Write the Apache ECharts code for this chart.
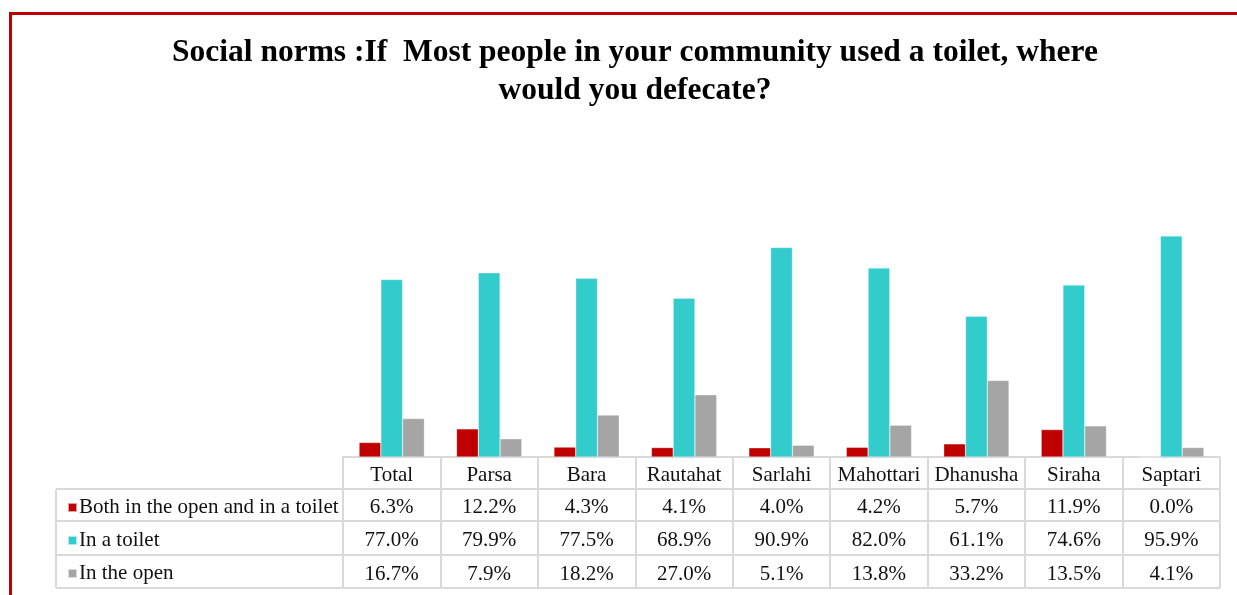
<!DOCTYPE html>
<html>
<head>
<meta charset="utf-8">
<script src="https://cdn.jsdelivr.net/npm/echarts@6/dist/echarts.min.js"></script>
<style>
  html, body { margin: 0; padding: 0; background: #fff; }
  #chart { width: 1237px; height: 595px; }
</style>
</head>
<body>
<div id="chart"></div>
<script>
// Districts (plus the overall total) along the category axis
const categories = ['Total', 'Parsa', 'Bara', 'Rautahat', 'Sarlahi', 'Mahottari', 'Dhanusha', 'Siraha', 'Saptari'];

// Share of respondents (%) for each answer
const seriesNames = ['Both in the open and in a toilet', 'In a toilet', 'In the open'];
const bothValues   = [6.3, 12.2, 4.3, 4.1, 4.0, 4.2, 5.7, 11.9, 0.0];
const toiletValues = [77.0, 79.9, 77.5, 68.9, 90.9, 82.0, 61.1, 74.6, 95.9];
const openValues   = [16.7, 7.9, 18.2, 27.0, 5.1, 13.8, 33.2, 13.5, 4.1];

const colors = ['#C00000', '#33CCCC', '#A5A5A5'];
const rowValues = [bothValues, toiletValues, openValues];

const serif = '"Liberation Serif", "DejaVu Serif", serif';
const textColor = '#111111';
const gridLine = '#d9d9d9';

// Table geometry (pixels)
const tableLeft = 56, tableRight = 1220, gridLeft = 343, baseY = 457;
const rowY = [baseY, baseY + 32, baseY + 64, baseY + 98, baseY + 131];

const chart = echarts.init(document.getElementById('chart'));

// One category axis carries the district names; three more carry the value rows of the table
const xAxes = [{
  type: 'category',
  data: categories,
  position: 'bottom',
  boundaryGap: true,
  axisLine: { show: true, lineStyle: { color: gridLine, width: 2 } },
  axisTick: { show: true, length: rowY[4] - baseY, lineStyle: { color: gridLine, width: 2 } },
  axisLabel: {
    interval: 0, margin: 18, verticalAlign: 'middle',
    fontFamily: serif, fontSize: 21, color: textColor
  }
}].concat(rowValues.map((vals, r) => ({
  type: 'category',
  data: categories,
  position: 'bottom',
  axisLine: { show: false },
  axisTick: { show: false },
  axisLabel: {
    interval: 0,
    margin: Math.round((rowY[r + 1] + rowY[r + 2]) / 2 - baseY) + 2,
    verticalAlign: 'middle',
    fontFamily: serif, fontSize: 21, color: textColor,
    formatter: (v, i) => vals[i].toFixed(1) + '%'
  }
})));

const series = rowValues.map((vals, r) => ({
  name: seriesNames[r],
  type: 'bar',
  data: vals,
  xAxisIndex: 0,
  barGap: '0%',
  barCategoryGap: '33%',
  itemStyle: { color: colors[r], borderColor: 'rgba(255,255,255,0.6)', borderWidth: 0.5 },
  emphasis: { disabled: true }
}));

// Horizontal table rules and the legend column's left edge
const tableLines = [
  { shape: { x1: tableLeft, y1: rowY[1], x2: tableRight, y2: rowY[1] } },
  { shape: { x1: tableLeft, y1: rowY[2], x2: tableRight, y2: rowY[2] } },
  { shape: { x1: tableLeft, y1: rowY[3], x2: tableRight, y2: rowY[3] } },
  { shape: { x1: tableLeft, y1: rowY[4], x2: tableRight, y2: rowY[4] } },
  { shape: { x1: tableLeft, y1: rowY[1], x2: tableLeft, y2: rowY[4] } }
].map(l => Object.assign({ type: 'line', silent: true, style: { stroke: gridLine, lineWidth: 2 } }, l));

// Red frame along the top and left edges
const frame = [
  { type: 'line', shape: { x1: 9, y1: 13.5, x2: 1237, y2: 13.5 }, style: { stroke: '#C00000', lineWidth: 3 } },
  { type: 'line', shape: { x1: 10.5, y1: 12, x2: 10.5, y2: 595 }, style: { stroke: '#C00000', lineWidth: 3 } }
];

chart.setOption({
  animation: false,
  backgroundColor: '#ffffff',
  title: {
    text: 'Social norms :If  Most people in your community used a toilet, where\nwould you defecate?',
    left: 630,
    textAlign: 'center',
    top: 29,
    textStyle: {
      fontFamily: serif, fontWeight: 'bold', fontSize: 31.5,
      color: '#000000', lineHeight: 38
    }
  },
  legend: {
    orient: 'vertical',
    left: 62,
    top: rowY[1] + 3,
    icon: 'rect',
    itemWidth: 9,
    itemHeight: 9,
    itemGap: 12,
    selectedMode: false,
    data: seriesNames,
    textStyle: { fontFamily: serif, fontSize: 21, color: textColor, padding: [0, 0, 0, -3], lineHeight: 21 }
  },
  grid: { left: gridLeft, right: 1237 - tableRight, top: baseY - 230.5, bottom: 595 - baseY },
  xAxis: xAxes,
  yAxis: { type: 'value', min: 0, max: 100, show: false, splitLine: { show: false } },
  series: series,
  graphic: tableLines.concat(frame)
});
</script>
</body>
</html>
